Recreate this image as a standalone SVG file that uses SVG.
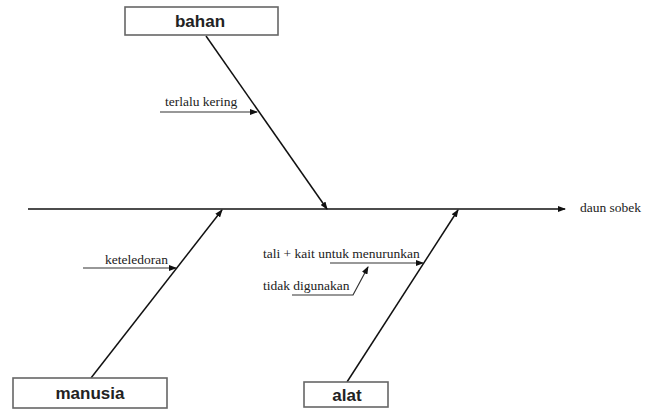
<svg xmlns="http://www.w3.org/2000/svg" width="654" height="412" viewBox="0 0 654 412">
  <defs>
    <marker id="arrow" markerWidth="8" markerHeight="6" refX="7" refY="3" orient="auto" markerUnits="userSpaceOnUse">
      <path d="M0,0 L8,3 L0,6 Z" fill="#111"/>
    </marker>
    <style>
      .box { fill: #fff; stroke: #666; stroke-width: 1.6; }
      .cat { font-family: "Liberation Sans", Arial, sans-serif; font-weight: bold; font-size: 17px; fill: #222; text-anchor: middle; }
      .cause { font-family: "Liberation Serif", "Times New Roman", serif; font-size: 13.5px; fill: #222; }
      .bone { stroke: #111; stroke-width: 1.5; fill: none; }
      .sub { stroke: #333; stroke-width: 1.2; fill: none; }
    </style>
  </defs>
  <rect width="654" height="412" fill="#fff"/>

  <g id="connectors">
    <line class="bone" x1="28" y1="209" x2="565" y2="209" marker-end="url(#arrow)" stroke-width="2"/>
    <line class="bone" x1="206" y1="36" x2="327" y2="209" marker-end="url(#arrow)"/>
    <line class="bone" x1="91" y1="378" x2="222" y2="210" marker-end="url(#arrow)"/>
    <line class="bone" x1="347" y1="382" x2="458" y2="210" marker-end="url(#arrow)"/>
    <line class="sub" x1="160" y1="112" x2="257" y2="112" marker-end="url(#arrow)"/>
    <line class="sub" x1="83" y1="268" x2="176" y2="268" marker-end="url(#arrow)"/>
    <line class="sub" x1="330" y1="263" x2="423" y2="263" marker-end="url(#arrow)"/>
    <polyline class="sub" points="292,295 353,295 368,267" marker-end="url(#arrow)"/>
  </g>

  <g id="effect">
    <text class="cause" x="580" y="212">daun sobek</text>
  </g>

  <g id="bahan">
    <rect class="box" x="125" y="7" width="153" height="28"/>
    <text class="cat" x="200" y="27">bahan</text>
  </g>

  <g id="manusia">
    <rect class="box" x="13" y="378" width="154" height="30"/>
    <text class="cat" x="90" y="399">manusia</text>
  </g>

  <g id="alat">
    <rect class="box" x="304" y="382" width="84" height="25"/>
    <text class="cat" x="347" y="401">alat</text>
  </g>

  <g id="cause-terlalu-kering">
    <text class="cause" x="165" y="106">terlalu kering</text>
  </g>

  <g id="cause-keteledoran">
    <text class="cause" x="105" y="264">keteledoran</text>
  </g>

  <g id="cause-tali-kait">
    <text class="cause" x="263" y="258">tali + kait untuk menurunkan</text>
  </g>

  <g id="cause-tidak-digunakan">
    <text class="cause" x="263" y="290">tidak digunakan</text>
  </g>
</svg>
